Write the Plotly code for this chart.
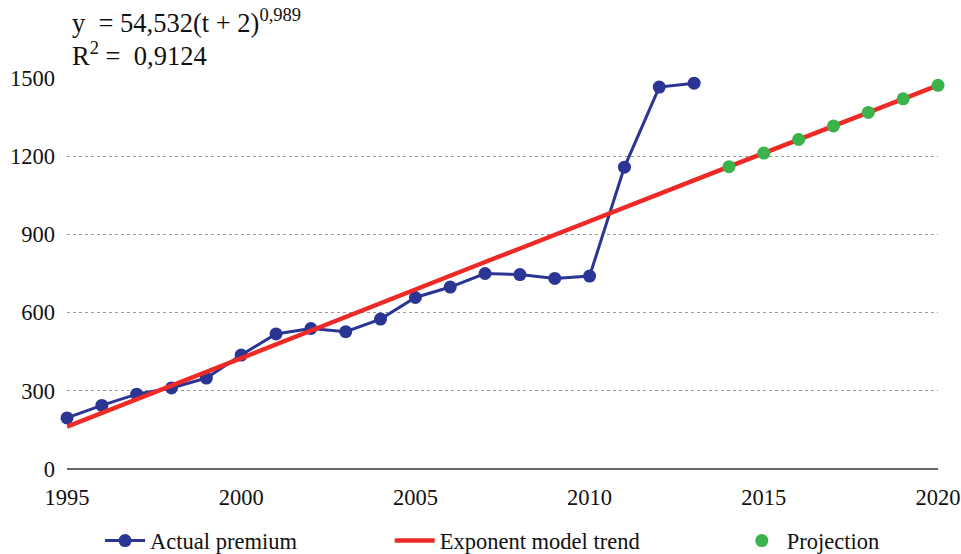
import plotly.graph_objects as go

years_actual = list(range(1995, 2014))
actual_premium = [196, 244, 287, 311, 349, 437, 518, 539, 527, 575, 658, 698, 750, 746, 731, 740, 1158, 1465, 1480]

years_trend = list(range(1995, 2021))
trend_values = [162, 215, 268, 321, 374, 426, 479, 532, 584, 637, 689, 742, 794, 846, 899, 951,
                1003, 1055, 1107, 1160, 1212, 1264, 1316, 1368, 1420, 1472]

years_proj = list(range(2014, 2021))
projection = [1160, 1212, 1264, 1316, 1368, 1420, 1472]

x_ticks = [1995, 2000, 2005, 2010, 2015, 2020]
y_ticks = [0, 300, 600, 900, 1200, 1500]

BLUE = "#2B3593"
RED = "#EE2A27"
GREEN = "#3BB34A"
FONT = "Liberation Serif"

fig = go.Figure()
fig.add_trace(go.Scatter(
    x=years_actual, y=actual_premium, mode="lines+markers", name="Actual premium",
    line=dict(color=BLUE, width=3), marker=dict(color=BLUE, size=13),
    cliponaxis=False, legend="legend"))
fig.add_trace(go.Scatter(
    x=years_trend, y=trend_values, mode="lines", name="Exponent model trend",
    line=dict(color=RED, width=4.5), cliponaxis=False, legend="legend2"))
fig.add_trace(go.Scatter(
    x=years_proj, y=projection, mode="markers", name="Projection",
    marker=dict(color=GREEN, size=13), cliponaxis=False, legend="legend3"))

legend_common = dict(orientation="h", yanchor="middle", xanchor="left",
                     font=dict(family=FONT, size=22.5, color="#111"),
                     bgcolor="rgba(0,0,0,0)", itemwidth=40)

fig.update_layout(
    width=961, height=554,
    margin=dict(l=67, r=23, t=78, b=85, autoexpand=False),
    plot_bgcolor="white", paper_bgcolor="white",
    font=dict(family=FONT, size=20, color="#111"),
    xaxis=dict(range=[1995, 2020], tickvals=x_ticks, showgrid=False, zeroline=False,
               showline=False, ticks="", ticklabelstandoff=12, automargin=False,
               tickfont=dict(family=FONT, size=22.5, color="#111")),
    yaxis=dict(range=[0, 1500], tickvals=y_ticks, showgrid=True, gridcolor="#9a9a9a",
               griddash="dot", gridwidth=1, zeroline=True, zerolinecolor="#666666",
               zerolinewidth=2, showline=False, ticks="", ticklabelstandoff=11,
               automargin=False,
               tickfont=dict(family=FONT, size=22.5, color="#111")),
    legend=dict(x=0.038, y=-0.184, **legend_common),
    legend2=dict(x=0.3705, y=-0.184, **legend_common),
    legend3=dict(x=0.769, y=-0.184, **legend_common),
    showlegend=True,
)

fig.add_annotation(xref="paper", yref="paper", x=0.003, y=1.145, xanchor="left", yanchor="middle",
                   text="y  = 54,532(t + 2)<sup>0,989</sup>", showarrow=False,
                   font=dict(family=FONT, size=26.5, color="#111"))
fig.add_annotation(xref="paper", yref="paper", x=0.003, y=1.062, xanchor="left", yanchor="middle",
                   text="R<sup>2</sup> =  0,9124", showarrow=False,
                   font=dict(family=FONT, size=26.5, color="#111"))

fig.write_html("out.html", config={"displayModeBar": False},
               post_script="document.body.style.margin='0';document.body.style.overflow='hidden';")
